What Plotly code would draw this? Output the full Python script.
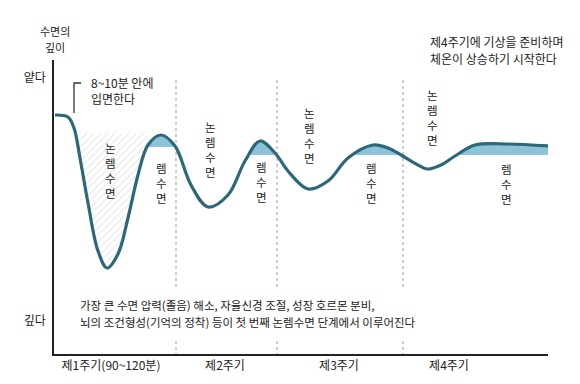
import plotly.graph_objects as go

# ---------------- data ----------------
# time (approx. minutes from sleep onset) and sleep depth (0 = shallow, larger = deeper)
time_min = [1, 14, 20, 26, 34, 44, 53, 64, 74, 84, 94, 107, 121, 137, 154, 174, 191, 206,
            221, 234, 254, 274, 294, 319, 334, 347, 364, 373, 387, 401, 421, 454, 495]
depth = [55, 57, 68, 98, 143, 191, 208, 194, 158, 115, 85, 75, 86, 125, 147, 135, 101, 81,
         93, 111, 129, 121, 98, 85, 88, 95, 105, 109, 105, 96, 85, 84, 86]

# REM phases (curve above the REM level)
rem_level = [87, 95, 95, 95]
rem_time = [[94, 107, 123], [194, 206, 221], [297, 319, 334, 347], [402, 421, 454, 495]]
rem_depth = [[87, 75, 87], [95, 81, 95], [95, 85, 88, 95], [95, 85, 84, 86]]

# first deep non-REM phase (hatched)
nrem_level = 73
nrem_time = [21, 26, 34, 44, 53, 64, 74, 84, 94]
nrem_depth = [73, 98, 143, 191, 208, 194, 158, 115, 85]

cycle_bounds = [122, 223, 349]
cycle_labels = ["제1주기(90~120분)", "제2주기", "제3주기", "제4주기"]
cycle_label_pos = [57, 171, 285, 395]
depth_labels = ["얕다", "깊다"]
depth_label_pos = [18, 261]

stage_labels = ["논렘수면", "렘수면", "논렘수면", "렘수면", "논렘수면", "렘수면", "논렘수면", "렘수면"]
stage_x = [56, 107, 156, 207, 255, 317, 378, 452]
stage_y = [110, 123, 89, 122, 75, 123, 57, 124]

FONT = "Noto Sans CJK KR"
TXT = "#222222"
CURVE = "#2d6878"
REMFILL = "#8cc3d8"

fig = go.Figure()

# hatched NREM area
fig.add_trace(go.Scatter(x=[nrem_time[0], nrem_time[-1]], y=[nrem_level, nrem_level],
                         mode="lines", line=dict(width=0), hoverinfo="skip", showlegend=False))
fig.add_trace(go.Scatter(x=nrem_time, y=nrem_depth, mode="lines", line=dict(width=0, shape="spline"),
                         fill="tonexty", fillcolor="rgba(0,0,0,0)",
                         fillpattern=dict(shape="/", fgcolor="#c8c8c8", bgcolor="white", size=5, solidity=0.2),
                         hoverinfo="skip", showlegend=False))

# REM fills
for lvl, xs, ys in zip(rem_level, rem_time, rem_depth):
    fig.add_trace(go.Scatter(x=[xs[0], xs[-1]], y=[lvl, lvl], mode="lines", line=dict(width=0),
                             hoverinfo="skip", showlegend=False))
    fig.add_trace(go.Scatter(x=xs, y=ys, mode="lines", line=dict(width=0, shape="spline"),
                             fill="tonexty", fillcolor=REMFILL, hoverinfo="skip", showlegend=False))

# main curve
fig.add_trace(go.Scatter(x=time_min, y=depth, mode="lines",
                         line=dict(color=CURVE, width=3.2, shape="spline", smoothing=1.0),
                         hoverinfo="skip", showlegend=False))

# bracket for sleep onset note
fig.add_trace(go.Scatter(x=[27, 20, 20], y=[23, 23, 53], mode="lines",
                         line=dict(color="#333", width=1.3), hoverinfo="skip", showlegend=False))

# cycle boundaries (interrupted behind the caption)
for b in cycle_bounds:
    for y0, y1 in [(20, 228), (281, 294)]:
        fig.add_shape(type="line", x0=b, x1=b, y0=y0, y1=y1, xref="x", yref="y",
                      line=dict(color="#9a9a9a", width=1, dash="dot"), layer="below")

ann = []
for s, x, y in zip(stage_labels, stage_x, stage_y):
    ann.append(dict(x=x, y=y, text="<br>".join(list(s)), showarrow=False,
                    font=dict(size=11.5, color=TXT, family=FONT), xanchor="center", yanchor="middle"))

ann += [
    dict(x=0.002, y=1.10, xref="paper", yref="paper", text="수면의", showarrow=False,
         xanchor="center", yanchor="middle", font=dict(size=11, color=TXT, family=FONT)),
    dict(x=0.002, y=1.045, xref="paper", yref="paper", text="깊이", showarrow=False,
         xanchor="center", yanchor="middle", font=dict(size=11, color=TXT, family=FONT)),
    dict(x=35, y=30, text="8~10분 안에<br>입면한다", showarrow=False, align="left",
         xanchor="left", yanchor="middle", font=dict(size=12, color=TXT, family=FONT)),
    dict(x=0.757, y=1.064, xref="paper", yref="paper", text="제4주기에 기상을 준비하며",
         showarrow=False, xanchor="left", yanchor="middle", font=dict(size=12, color=TXT, family=FONT)),
    dict(x=0.757, y=1.005, xref="paper", yref="paper", text="체온이 상승하기 시작한다",
         showarrow=False, xanchor="left", yanchor="middle", font=dict(size=12, color=TXT, family=FONT)),
    dict(x=24, y=245, text="가장 큰 수면 압력(졸음) 해소, 자율신경 조절, 성장 호르몬 분비,", showarrow=False,
         xanchor="left", yanchor="middle", font=dict(size=11.5, color=TXT, family=FONT)),
    dict(x=24, y=262, text="뇌의 조건형성(기억의 정착) 등이 첫 번째 논렘수면 단계에서 이루어진다", showarrow=False,
         xanchor="left", yanchor="middle", font=dict(size=11.5, color=TXT, family=FONT)),
]

fig.update_layout(
    width=580, height=384,
    margin=dict(l=46, r=40, t=52, b=38),
    paper_bgcolor="white", plot_bgcolor="white",
    font=dict(family=FONT, color=TXT, size=12),
    annotations=ann,
    xaxis=dict(range=[0, 494], showgrid=False, zeroline=False, showline=True, linecolor="#222",
               linewidth=1.5, ticks="", tickvals=cycle_label_pos, ticktext=cycle_labels,
               tickfont=dict(size=12, color=TXT, family=FONT), fixedrange=True, automargin=False),
    yaxis=dict(range=[294, 0], showgrid=False, zeroline=False, showline=True, linecolor="#222",
               linewidth=1.5, ticks="", tickvals=depth_label_pos, ticktext=depth_labels,
               tickfont=dict(size=12, color=TXT, family=FONT), ticklabelstandoff=4, fixedrange=True,
               automargin=False),
)

fig.write_html("out.html")
